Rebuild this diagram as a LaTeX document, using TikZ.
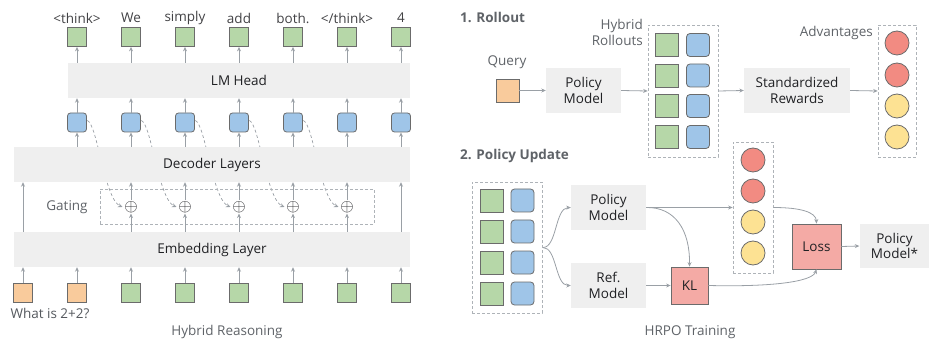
\documentclass[tikz,border=0pt]{standalone}
\usepackage{fontspec}
\setmainfont{Open Sans}
\usetikzlibrary{arrows.meta}
\definecolor{gfill}{HTML}{B6D7A8}
\definecolor{bfill}{HTML}{9FC5E8}
\definecolor{ofill}{HTML}{F9CB9C}
\definecolor{rfill}{HTML}{F28B82}
\definecolor{yfill}{HTML}{FDE293}
\definecolor{pfill}{HTML}{F4AAA5}
\definecolor{boxgray}{HTML}{EFEFEF}
\definecolor{edge}{HTML}{6B6B6B}
\definecolor{arrgray}{HTML}{9AA0A6}
\definecolor{txt}{HTML}{202124}
\definecolor{lbl}{HTML}{5F6368}
\pgfdeclarelayer{bg}
\pgfsetlayers{bg,main}
\begin{document}
\begin{tikzpicture}[x=1pt,y=-1pt,
  every node/.style={font=\fontsize{13.5}{15.5}\selectfont, text=txt, inner sep=0pt},
  tok/.style={draw=edge, line width=0.8pt, fill=gfill, minimum size=19pt},
  otok/.style={draw=edge, line width=0.8pt, fill=ofill, minimum size=19pt},
  hid/.style={draw=edge, line width=0.8pt, fill=bfill, minimum size=19pt, rounded corners=3pt},
  rtok/.style={draw=edge, line width=0.8pt, fill=gfill, minimum size=23pt},
  rhid/.style={draw=edge, line width=0.8pt, fill=bfill, minimum size=23pt, rounded corners=3.5pt},
  rq/.style={draw=edge, line width=0.8pt, fill=ofill, minimum size=23pt},
  layer/.style={fill=boxgray, minimum height=35pt},
  model/.style={fill=boxgray, minimum width=75pt, minimum height=45pt, align=center},
  pinkbox/.style={draw=edge, line width=0.8pt, fill=pfill},
  circ/.style={circle, draw=edge, line width=0.8pt, minimum size=24pt},
  grp/.style={draw=arrgray!80, line width=0.7pt, dash pattern=on 3pt off 2pt},
  arr/.style={draw=arrgray, line width=0.8pt, -{Stealth[length=4.5pt,width=4pt]}},
  darr/.style={draw=arrgray, line width=0.7pt, dash pattern=on 3pt off 2.5pt, -{Stealth[length=4.5pt,width=4pt]}},
  lab/.style={text=lbl},
  head/.style={text=lbl, font=\fontsize{13.5}{15.5}\selectfont\bfseries, anchor=west},
]
\useasboundingbox (0,0) rectangle (929,339);

% ---------------- Left: Hybrid Reasoning ----------------
\foreach \i/\x/\w in {1/77/{<think>},2/131/We,3/185/simply,4/239/add,5/293/both.,6/347/{</think>},7/401/4}{
  \node[tok] (t\i) at (\x,37) {};
  \node[text=txt!85] (tl\i) at (\x,18) {\w};
  \node[hid] (h\i) at (\x,122.5) {};
}
\node[layer, minimum width=342pt] (lm) at (239,80.5) {LM Head};
\node[layer, minimum width=396pt] (dec) at (212,164.5) {Decoder Layers};
\node[layer, minimum width=396pt] (emb) at (212,249.5) {Embedding Layer};
\node[grp, minimum width=274pt, minimum height=35pt] (gate) at (237,206.5) {};
\node[lab] (gatel) at (67,207) {Gating};
\foreach \i/\x in {1/131,2/185,3/239,4/293,5/347}{
  \node[font=\fontsize{16}{16}\selectfont, inner sep=0.6pt] (p\i) at (\x,207) {$\oplus$};
}
\node[otok] (b1) at (23,292.5) {};
\node[otok] (b2) at (77,292.5) {};
\foreach \i/\x in {3/131,4/185,5/239,6/293,7/347,8/401}{
  \node[tok] (b\i) at (\x,292.5) {};
}
\node[text=lbl!90!black] (q) at (50,313) {What is 2+2?};
\node[lab] (hr) at (227,332) {Hybrid Reasoning};

% arrows left
\foreach \i in {1,...,8}{ \draw[arr] (b\i.north) -- (b\i.north |- emb.south); }
\foreach \i in {1,...,7}{
  \draw[arr] (h\i.north) -- (h\i.north |- lm.south);
  \draw[arr] (t\i.south |- lm.north) -- (t\i.south);
  \draw[arr] (h\i.south |- dec.north) -- (h\i.south);
}
\foreach \i in {1,...,5}{
  \draw[arr] (p\i.south |- emb.north) -- (p\i.south);
  \draw[arr] (p\i.north) -- (p\i.north |- dec.south);
}
\draw[arr] (b1.north |- emb.north) -- (b1.north |- dec.south);
\draw[arr] (b8.north |- emb.north) -- (b8.north |- dec.south);
\begin{pgfonlayer}{bg}
\foreach \i in {1,...,5}{
  \draw[darr] ([xshift=0.5pt,yshift=2pt]h\i.east) .. controls +(10,4) and +(-18,-8) .. ([xshift=-1pt]p\i.west);
}
\end{pgfonlayer}

% ---------------- Right: Rollout ----------------
\node[head] (h1t) at (460,17) {1. Rollout};
\node[lab] (ql) at (507,62) {Query};
\node[rq] (qs) at (507.5,90.5) {};
\node[model] (pm1) at (583.5,90.5) {Policy\\Model};
\node[grp, minimum width=70pt, minimum height=132pt] (hro) at (683,91) {};
\foreach \i/\y in {1/45,2/75.5,3/106,4/137}{
  \node[rtok] (rg\i) at (667,\y) {};
  \node[rhid] (rb\i) at (698,\y) {};
}
\node[lab, align=right, anchor=east] (hrl) at (643,32.5) {Hybrid\\Rollouts};
\node[model, minimum width=106pt] (sr) at (797,90.5) {Standardized\\Rewards};
\node[grp, minimum width=38pt, minimum height=132pt] (adv) at (897,91) {};
\node[circ, fill=rfill] (a1) at (897,43) {};
\node[circ, fill=rfill] (a2) at (897,75) {};
\node[circ, fill=yfill] (a3) at (897,106) {};
\node[circ, fill=yfill] (a4) at (897,137) {};
\node[lab, anchor=east] (advl) at (873,33) {Advantages};
\draw[arr] (qs.east) -- (pm1.west);
\draw[arr] (pm1.east) -- (hro.west);
\draw[arr] (hro.east) -- (sr.west);
\draw[arr] (sr.east) -- (adv.west);

% ---------------- Right: Policy Update ----------------
\node[head] (h2t) at (460,156) {2. Policy Update};
\node[grp, minimum width=70pt, minimum height=131pt] (pu) at (507,247.5) {};
\foreach \i/\y in {1/200.5,2/231.5,3/262.5,4/293.5}{
  \node[rtok] (ug\i) at (492,\y) {};
  \node[rhid] (ub\i) at (522.5,\y) {};
}
\node[model] (pm2) at (608.5,207.5) {Policy\\Model};
\node[model] (ref) at (608.5,285.5) {Ref.\\Model};
\node[pinkbox, minimum size=37pt] (kl) at (689.5,285.5) {KL};
\node[grp, minimum width=40pt, minimum height=131pt] (mid) at (753,207.5) {};
\node[circ, fill=rfill] (m1) at (753,160) {};
\node[circ, fill=rfill] (m2) at (753,191) {};
\node[circ, fill=yfill] (m3) at (753,222) {};
\node[circ, fill=yfill] (m4) at (753,253) {};
\node[pinkbox, minimum width=49pt, minimum height=45pt] (loss) at (816.5,246.5) {Loss};
\node[model, minimum width=70pt, minimum height=44pt] (pm3) at (894.5,246) {Policy\\Model*};
\node[lab] (hrpo) at (690,332) {HRPO Training};

\coordinate (split) at (543,247.5);
\draw[arr] (split) .. controls (557,247.5) and (555,208) .. (pm2.west);
\draw[arr] (split) .. controls (557,247.5) and (555,285.5) .. (ref.west);
\draw[arr] (ref.east) -- (kl.west);
\draw[arr] (pm2.east) -- (mid.west |- pm2.east);
\draw[arr] (pm2.east) .. controls (675,207) and (690,230) .. (kl.north);
\draw[arr] (mid.east |- pm2.east) .. controls (800,207.5) and (816,212) .. (loss.north);
\draw[arr] (kl.east) .. controls (770,287) and (812,282) .. (loss.south);
\draw[arr] (loss.east) -- (pm3.west);
\end{tikzpicture}
\end{document}
